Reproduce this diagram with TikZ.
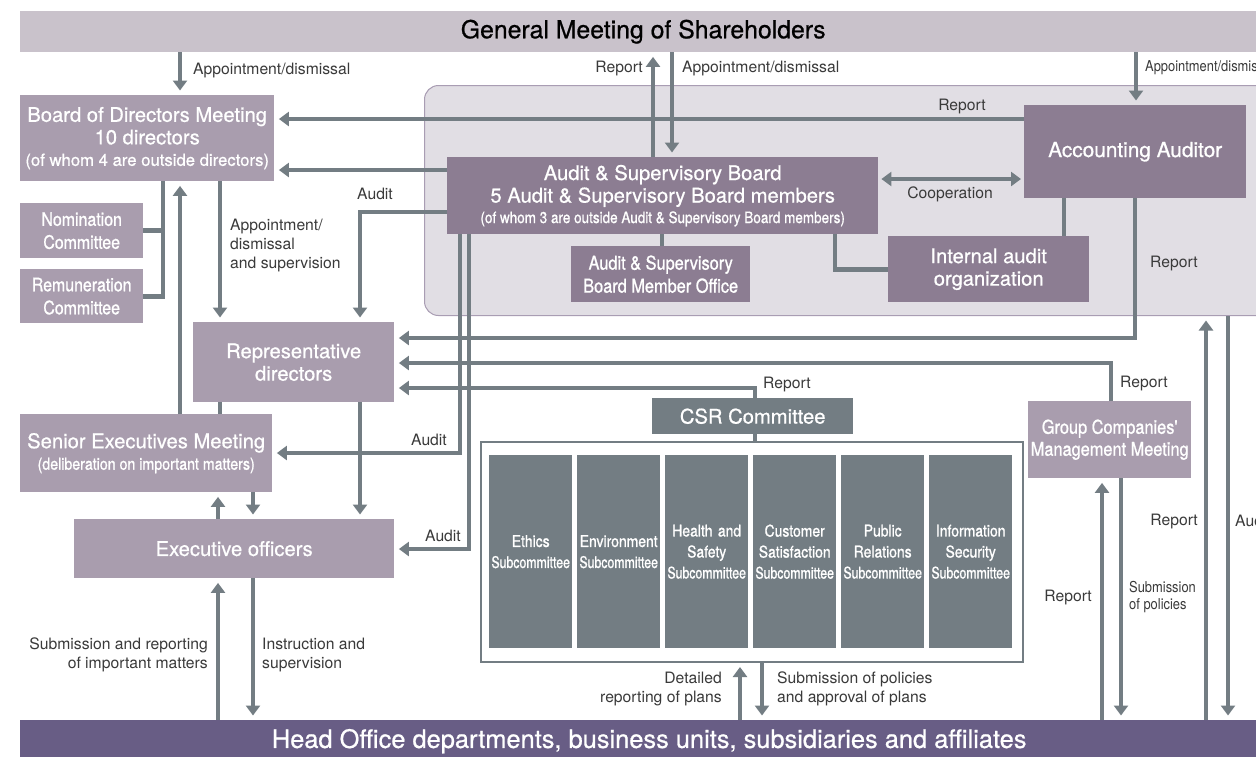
\documentclass[tikz,border=0pt]{standalone}
\usepackage{fontspec}
\setmainfont{TeX Gyre Heros}
\newfontfamily\boxf[FakeBold=0.7]{TeX Gyre Heros}
\newfontfamily\cond[FakeStretch=0.86,FakeBold=1.0]{TeX Gyre Heros}
\newfontfamily\condS[FakeStretch=0.77,FakeBold=1.0]{TeX Gyre Heros}
\newfontfamily\condL[FakeStretch=0.86]{TeX Gyre Heros}
\usetikzlibrary{arrows.meta}
\newcommand\myfs[2]{\fontsize{#1}{#2}\selectfont}
\definecolor{cgray}{HTML}{737D83}
\definecolor{clight}{HTML}{A99DAE}
\definecolor{cdark}{HTML}{8C7D92}
\definecolor{ctop}{HTML}{C9C2CB}
\definecolor{carea}{HTML}{E1DEE4}
\definecolor{careaedge}{HTML}{A99DB3}
\definecolor{cbottom}{HTML}{685D85}
\definecolor{ctext}{HTML}{3A3A3A}
\tikzset{
  box/.style={anchor=north west, inner sep=0pt, align=center, text=white},
  lightbox/.style={box, fill=clight},
  darkbox/.style={box, fill=cdark},
  graybox/.style={box, fill=cgray},
  ttl/.style={font=\boxf\myfs{20.2}{22.5}},
  ln/.style={draw=cgray, line width=4.6pt},
  arr/.style={ln, -{Triangle[width=14pt,length=10pt]}, shorten >=4.5pt},
  darr/.style={ln, {Triangle[width=14pt,length=10pt]}-{Triangle[width=14pt,length=10pt]}, shorten >=3pt, shorten <=3pt},
  lbl/.style={inner sep=0pt, text=ctext, font=\myfs{15.7}{19}},
  clbl/.style={inner sep=0pt, text=ctext, font=\condL\myfs{15}{17}},
}
\begin{document}
\begin{tikzpicture}[x=1pt,y=-1pt]
\useasboundingbox[fill=white] (0,0) rectangle (1256,756);

% bars
\node[box, fill=ctop, text=black, minimum width=1246pt, minimum height=41pt, font=\boxf\myfs{24.8}{26}] (gms) at (20,11) {General Meeting of Shareholders};
\node[box, fill=cbottom, minimum width=1258pt, minimum height=42pt, font=\boxf\myfs{25.4}{26}] (hq) at (20,720) {Head Office departments, business units, subsidiaries and affiliates};

% audit area
\node[anchor=north west, fill=carea, draw=careaedge, line width=1pt, rounded corners=14pt, minimum width=880pt, minimum height=230pt, inner sep=0pt] (area) at (424,85) {};

% left boxes
\node[lightbox, minimum width=254pt, minimum height=86pt, ttl] (board) at (20,95) {Board of Directors Meeting\\10 directors\\[-1pt]{\myfs{16.7}{19}(of whom 4 are outside directors)}};
\node[lightbox, minimum width=123pt, minimum height=55pt, font=\cond\myfs{18.5}{23}] (nom) at (20,203) {Nomination\\Committee};
\node[lightbox, minimum width=123pt, minimum height=54pt, font=\cond\myfs{18.5}{23}] (rem) at (20,269) {Remuneration\\Committee};
\node[lightbox, minimum width=201pt, minimum height=80pt, ttl] (rep) at (193,322) {Representative\\directors};
\node[lightbox, minimum width=252pt, minimum height=78pt, ttl] (sem) at (20,414) {Senior Executives Meeting\\[-1pt]{\cond\myfs{16.5}{19}(deliberation on important matters)}};
\node[lightbox, minimum width=320pt, minimum height=59pt, ttl] (eo) at (74,519) {Executive officers};

% audit boxes
\node[darkbox, minimum width=431pt, minimum height=77pt, ttl] (asb) at (447,157) {Audit \& Supervisory Board\\5 Audit \& Supervisory Board members\\[-2pt]{\cond\myfs{15.7}{18}(of whom 3 are outside Audit \& Supervisory Board members)}};
\node[darkbox, minimum width=179pt, minimum height=56pt, font=\cond\myfs{19}{23}] (asbo) at (571,246) {Audit \& Supervisory\\Board Member Office};
\node[darkbox, minimum width=222pt, minimum height=93pt, ttl] (aa) at (1024,105) {\myfs{20.8}{23}Accounting Auditor};
\node[darkbox, minimum width=201pt, minimum height=66pt, ttl] (iao) at (888,236) {Internal audit\\organization};

% CSR
\node[graybox, minimum width=201pt, minimum height=36pt, ttl] (csr) at (652,398) {CSR Committee};
\node[anchor=north west, draw=cgray, line width=1.5pt, fill=white, minimum width=542pt, minimum height=220pt, inner sep=0pt] (outer) at (480,441) {};
\tikzset{sub/.style={graybox, minimum width=83pt, text width=83pt, minimum height=193pt, font=\cond\myfs{16.2}{21}}}
\node[sub] (s1) at (489,455) {Ethics\\{\condS\myfs{16}{21}Subcommittee}};
\node[sub] (s2) at (577,455) {Environment\\{\condS\myfs{16}{21}Subcommittee}};
\node[sub] (s3) at (665,455) {Health and\\Safety\\{\condS\myfs{16}{21}Subcommittee}};
\node[sub] (s4) at (753,455) {Customer\\Satisfaction\\{\condS\myfs{16}{21}Subcommittee}};
\node[sub] (s5) at (841,455) {Public\\Relations\\{\condS\myfs{16}{21}Subcommittee}};
\node[sub] (s6) at (929,455) {Information\\Security\\{\condS\myfs{16}{21}Subcommittee}};

\node[lightbox, minimum width=163pt, minimum height=77pt, font=\cond\myfs{19}{22}] (gcmm) at (1028,401) {Group Companies'\\Management Meeting};

% connectors: left column
\draw[arr] (gms.south -| 180,0) -- (board.north -| 180,0);
\node[lbl, anchor=west] (l1) at (193,70) {Appointment/dismissal};
\draw[ln] (nom.east) -| (board.south -| 163,0);
\draw[ln] (rem.east) -| (163,229);
\draw[arr] (sem.north -| 180,0) -- (board.south -| 180,0);
\draw[arr] (board.south -| 220,0) -- (rep.north -| 220,0);
\node[lbl, anchor=north west, align=left] (l2) at (230,219) {Appointment/\\dismissal\\and supervision};
\draw[ln] (rep.south -| 220,0) -- (sem.north -| 220,0);
\draw[arr] (rep.south -| 360,0) -- (eo.north -| 360,0);
\draw[arr] (eo.north -| 218,0) -- (sem.south -| 218,0);
\draw[arr] (sem.south -| 253,0) -- (eo.north -| 253,0);
\draw[arr] (hq.north -| 218,0) -- (eo.south -| 218,0);
\draw[arr] (eo.south -| 253,0) -- (hq.north -| 253,0);
\node[lbl, anchor=north east, align=right] (l3) at (208,638) {Submission and reporting\\of important matters};
\node[lbl, anchor=north west, align=left] (l4) at (262,638) {Instruction and\\supervision};

% audit board connectors
\draw[arr] (asb.west |- 0,170) -- (board.east |- 0,170);
\draw[arr] (asb.west |- 0,212) -| (rep.north -| 360,0);
\node[lbl, anchor=west] (l5) at (357,194) {Audit};
\draw[arr] (asb.north -| 653,0) -- (gms.south -| 653,0);
\draw[arr] (gms.south -| 672,0) -- (asb.north -| 672,0);
\node[lbl, anchor=east] (l6) at (643,68) {Report};
\node[lbl, anchor=west] (l7) at (682,68) {Appointment/dismissal};
\draw[arr] (gms.south -| 1136,0) -- (aa.north -| 1136,0);
\node[clbl, anchor=west] (l8) at (1145,68) {Appointment/dismissal};
\draw[arr] (aa.west |- 0,119) -- (board.east |- 0,119);
\node[lbl] (l9) at (962,106) {Report};
\draw[darr] (asb.east |- 0,179) -- (aa.west |- 0,179);
\node[lbl] (l10) at (950,194) {Cooperation};
\draw[ln] (aa.south -| 1064,0) -- (iao.north -| 1064,0);
\draw[ln] (asb.south -| 835,0) |- (iao.west);
\draw[ln] (asb.south -| 662,0) -- (asbo.north -| 662,0);

% reports to representative directors
\draw[arr] (aa.south -| 1135,0) |- (rep.east |- 0,338);
\node[lbl, anchor=west] (l11) at (1150,263) {Report};
\draw[arr] (gcmm.north -| 1111,0) |- (rep.east |- 0,363);
\node[lbl, anchor=west] (l12) at (1120,383) {Report};
\draw[arr] (csr.north -| 755,0) |- (rep.east |- 0,388);
\node[lbl, anchor=west] (l13) at (763,384) {Report};
\draw[ln] (csr.south -| 755,0) -- (outer.north -| 755,0);

% audit to SEM and EO
\draw[arr] (asb.south -| 460,0) |- (sem.east |- 0,453);
\node[lbl, anchor=east] (l14) at (447,440) {Audit};
\draw[arr] (asb.south -| 469,0) |- (eo.east |- 0,549);
\node[lbl, anchor=east] (l15) at (461,536) {Audit};

% bottom centre
\draw[arr] (hq.north -| 740,0) -- (outer.south -| 740,0);
\draw[arr] (outer.south -| 762,0) -- (hq.north -| 762,0);
\node[lbl, anchor=north east, align=right] (l16) at (722,672) {Detailed\\reporting of plans};
\node[lbl, anchor=north west, align=left] (l17) at (777,672) {Submission of policies\\and approval of plans};

% group companies
\draw[arr] (hq.north -| 1102,0) -- (gcmm.south -| 1102,0);
\draw[arr] (gcmm.south -| 1121,0) -- (hq.north -| 1121,0);
\node[lbl, anchor=east] (l18) at (1092,597) {Report};
\node[clbl, anchor=north west, align=left] (l19) at (1129,581) {Submission\\of policies};

% right edge
\draw[arr] (hq.north -| 1206,0) -- (area.south -| 1206,0);
\draw[arr] (area.south -| 1228,0) -- (hq.north -| 1228,0);
\node[lbl, anchor=east] (l20) at (1198,521) {Report};
\node[lbl, anchor=west] (l21) at (1235,521) {Audit};
\end{tikzpicture}
\end{document}
